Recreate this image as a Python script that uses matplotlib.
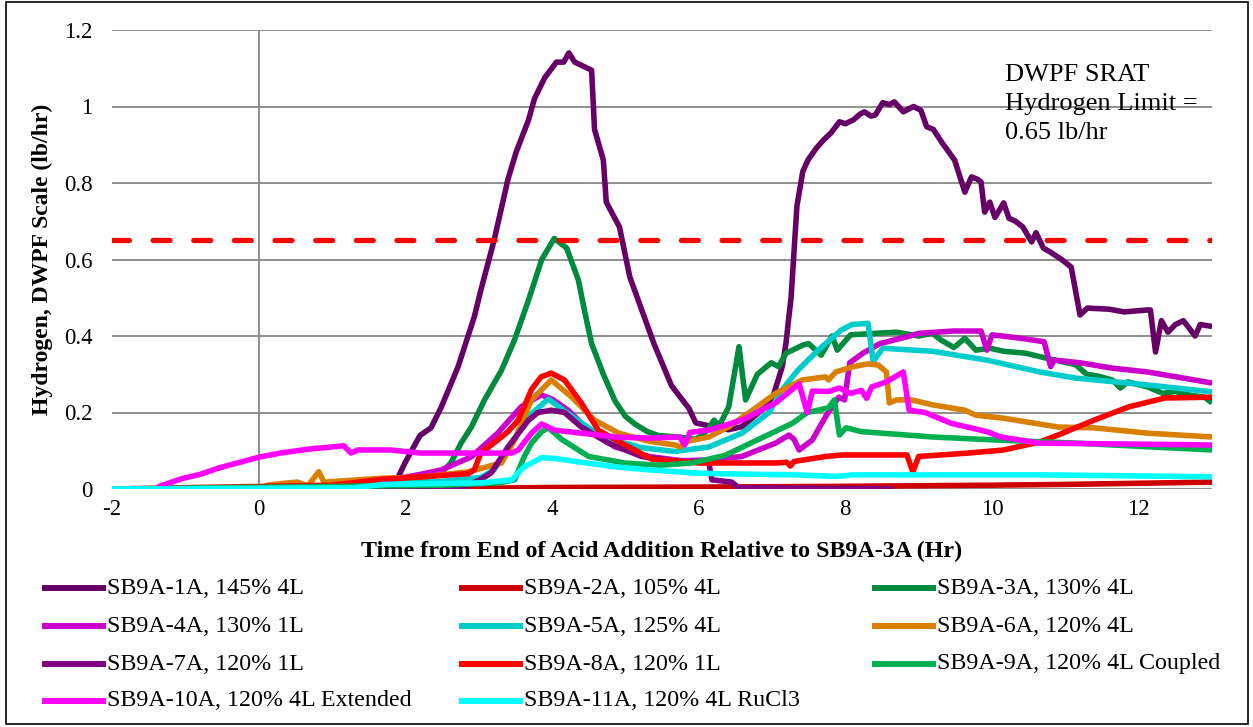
import numpy as np
import matplotlib.pyplot as plt
from matplotlib.lines import Line2D
from matplotlib.patches import Rectangle

plt.rcParams['font.family'] = ['Liberation Serif', 'DejaVu Serif']
plt.rcParams['axes.unicode_minus'] = False

W, H = 1253, 727

# hydrogen generation, lb/hr on the DWPF scale, vs hours from end of acid addition
t_1a = [-2, 1.75, 1.9, 2.0, 2.2, 2.35, 2.49, 2.72, 2.94, 3.03, 3.21, 3.40, 3.51, 3.68, 3.76, 3.90,
        4.06, 4.16, 4.23, 4.31, 4.54, 4.58, 4.70, 4.74, 4.92, 5.06, 5.22, 5.39, 5.63, 5.87, 5.96,
        6.14, 6.41, 6.59, 6.82, 7.0, 7.14, 7.19, 7.23, 7.26, 7.30, 7.34, 7.42, 7.49, 7.60, 7.70,
        7.80, 7.92, 8.0, 8.11, 8.2, 8.26, 8.35, 8.41, 8.51, 8.60, 8.67, 8.79, 8.93, 9.03, 9.11,
        9.2, 9.32, 9.49, 9.63, 9.72, 9.8, 9.85, 9.90, 9.97, 10.04, 10.16, 10.23, 10.32, 10.42,
        10.54, 10.60, 10.70, 10.79, 10.95, 11.08, 11.20, 11.30, 11.6, 11.8, 12.12, 12.16, 12.23,
        12.31, 12.40, 12.5, 12.61, 12.77, 12.84, 13.0]
h_1a = [0, 0, 0.03, 0.07, 0.14, 0.16, 0.214, 0.32, 0.45, 0.52, 0.65, 0.81, 0.88, 0.965, 1.02, 1.075,
        1.116, 1.116, 1.14, 1.116, 1.095, 0.94, 0.86, 0.75, 0.685, 0.555, 0.47, 0.38, 0.27, 0.21, 0.173,
        0.165, 0.155, 0.163, 0.20, 0.233, 0.32, 0.38, 0.45, 0.50, 0.62, 0.74, 0.83, 0.86, 0.89, 0.912,
        0.93, 0.96, 0.955, 0.965, 0.98, 0.986, 0.975, 0.978, 1.01, 1.005, 1.012, 0.986, 1.0, 0.99, 0.947,
        0.94, 0.905, 0.86, 0.776, 0.816, 0.81, 0.803, 0.724, 0.75, 0.71, 0.748, 0.708, 0.70, 0.685,
        0.646, 0.67, 0.63, 0.62, 0.60, 0.58, 0.455, 0.473, 0.47, 0.463, 0.468, 0.468, 0.358,
        0.44, 0.41, 0.43, 0.44, 0.40, 0.43, 0.425]

t_2a = [-2, 2, 4, 6, 8, 10, 11, 12, 13]
h_2a = [0, 0, 0.004, 0.005, 0.007, 0.01, 0.012, 0.015, 0.018]

t_3a = [-2, 1.5, 2.0, 2.3, 2.49, 2.62, 2.76, 2.9, 3.08, 3.31, 3.49, 3.68, 3.86, 4.03, 4.2, 4.36,
        4.45, 4.54, 4.7, 4.86, 5.0, 5.13, 5.3, 5.45, 5.77, 5.95, 6.05, 6.14, 6.21, 6.28, 6.41, 6.55,
        6.64, 6.8, 6.99, 7.09, 7.19, 7.43, 7.5, 7.67, 7.82, 7.89, 8.07, 8.41, 8.7, 9.0, 9.19, 9.3,
        9.48, 9.63, 9.78, 9.97, 10.16, 10.46, 10.74, 11.14, 11.29, 11.45, 11.64, 11.75, 11.85,
        12.12, 12.33, 12.5, 12.71, 12.9, 13]
h_3a = [0, 0, 0.02, 0.03, 0.042, 0.068, 0.12, 0.162, 0.233, 0.31, 0.39, 0.494, 0.60, 0.655, 0.63, 0.546,
        0.46, 0.38, 0.30, 0.23, 0.19, 0.17, 0.15, 0.14, 0.135, 0.13, 0.14, 0.16, 0.18, 0.165, 0.215, 0.372,
        0.233, 0.30, 0.33, 0.32, 0.355, 0.377, 0.38, 0.35, 0.40, 0.363, 0.403, 0.407, 0.41, 0.40, 0.407, 0.39,
        0.37, 0.394, 0.363, 0.368, 0.36, 0.355, 0.342, 0.325, 0.30, 0.295, 0.285, 0.264, 0.28,
        0.267, 0.25, 0.255, 0.245, 0.24, 0.225]

t_4a = [-2, 1.2, 1.7, 2.25, 2.49, 2.9, 3.26, 3.58, 3.85, 4.0, 4.22, 4.5, 4.86, 5.32, 5.77, 6.14,
        6.59, 7.05, 7.23, 7.30, 7.37, 7.55, 7.73, 7.82, 7.91, 7.99, 8.06, 8.24, 8.47, 8.88, 9.0, 9.48,
        9.85, 9.93, 10.0, 10.36, 10.71, 10.8, 10.85, 11.2, 11.64, 12.12, 12.61, 13]
h_4a = [0, 0, 0.02, 0.04, 0.05, 0.084, 0.146, 0.215, 0.246, 0.235, 0.206, 0.154, 0.11, 0.085, 0.074, 0.076,
        0.085, 0.12, 0.141, 0.13, 0.102, 0.128, 0.189, 0.215, 0.24, 0.233, 0.33, 0.355, 0.38, 0.40, 0.407, 0.413,
        0.413, 0.363, 0.403, 0.395, 0.385, 0.32, 0.337, 0.33, 0.316, 0.306, 0.29, 0.277]

t_5a = [-2, 1.5, 2.0, 2.5, 3.03, 3.21, 3.45, 3.68, 3.95, 4.31, 4.68, 5.22, 5.68, 6.14, 6.59, 6.96,
        7.14, 7.35, 7.64, 7.94, 8.09, 8.31, 8.38, 8.51, 9.19, 9.93, 10.65, 11.14, 12.12, 13]
h_5a = [0, 0, 0.015, 0.02, 0.03, 0.05, 0.12, 0.19, 0.235, 0.185, 0.136, 0.108, 0.098, 0.11, 0.146, 0.2,
        0.26, 0.31, 0.365, 0.415, 0.43, 0.433, 0.333, 0.368, 0.36, 0.337, 0.306, 0.29, 0.272, 0.254]

t_6a = [-2, 0.0, 0.12, 0.35, 0.53, 0.67, 0.82, 0.89, 1.2, 1.67, 2.21, 2.86, 3.31, 3.49, 3.72, 3.99,
        4.27, 4.58, 4.91, 5.32, 5.68, 5.75, 5.85, 6.14, 6.41, 6.69, 7.05, 7.41, 7.73, 7.77, 7.87, 8.11,
        8.31, 8.45, 8.56, 8.6, 8.7, 8.9, 9.19, 9.63, 9.78, 10.16, 10.9, 11.39, 12.12, 13]
h_6a = [0, 0, 0.01, 0.015, 0.018, 0.008, 0.045, 0.018, 0.022, 0.028, 0.031, 0.045, 0.068, 0.128, 0.233, 0.285,
        0.24, 0.18, 0.146, 0.125, 0.115, 0.11, 0.125, 0.136, 0.163, 0.2, 0.25, 0.285, 0.293, 0.285, 0.306, 0.32,
        0.327, 0.324, 0.306, 0.225, 0.233, 0.233, 0.22, 0.206, 0.193, 0.185, 0.162, 0.16, 0.146, 0.136]

t_7a = [-2, 2.8, 3.03, 3.17, 3.4, 3.68, 3.81, 3.99, 4.17, 4.4, 4.77, 5.22, 5.68, 6.14, 6.18, 6.45, 6.55, 8.66]
h_7a = [0, 0.005, 0.025, 0.042, 0.11, 0.18, 0.2, 0.206, 0.2, 0.162, 0.12, 0.085, 0.073, 0.068, 0.024, 0.018, 0.003, 0]

t_8a = [-2, 1.0, 1.67, 2.86, 2.94, 3.03, 3.26, 3.4, 3.54, 3.72, 3.85, 3.99, 4.17, 4.40, 4.63, 4.95, 5.36, 6.0,
        7.05, 7.2, 7.25, 7.3, 7.73, 7.96, 8.84, 8.92, 9.0, 9.68, 10.16, 10.65, 10.9, 11.39, 11.87,
        12.36, 13]
h_8a = [0, 0.01, 0.025, 0.04, 0.05, 0.094, 0.128, 0.15, 0.18, 0.26, 0.293, 0.303, 0.285, 0.225, 0.154, 0.12, 0.078,
        0.068, 0.068, 0.07, 0.06, 0.072, 0.085, 0.089, 0.089, 0.045, 0.085, 0.094, 0.102, 0.123, 0.141, 0.18, 0.215,
        0.238, 0.24]

t_9a = [-2, 2.5, 3.27, 3.49, 3.62, 3.72, 3.86, 3.95, 4.13, 4.5, 4.99, 5.46, 5.91, 6.36, 6.82, 7.28, 7.48,
        7.77, 7.85, 7.92, 8.01, 8.22, 9.19, 10.07, 11.14, 13]
h_9a = [0, 0.01, 0.016, 0.024, 0.084, 0.12, 0.15, 0.16, 0.13, 0.085, 0.068, 0.062, 0.068, 0.088, 0.13, 0.172, 0.2,
        0.212, 0.233, 0.141, 0.16, 0.15, 0.136, 0.128, 0.12, 0.102]

t_10a = [-2, -1.4, -1.34, -1.03, -0.8, -0.56, -0.29, 0.02, 0.3, 0.67, 1.16, 1.26, 1.35, 1.8, 2.21, 2.58,
         3.45, 3.54, 3.72, 3.86, 4.03, 4.4, 4.86, 5.32, 5.74, 5.81, 5.88, 6.14, 6.59, 7.05, 7.37, 7.48, 7.55,
         7.77, 7.92, 8.07, 8.22, 8.29, 8.36, 8.56, 8.79, 8.87, 9.09, 9.44, 9.93, 10.12, 10.65, 11.64, 13]
h_10a = [0, 0, 0.008, 0.028, 0.038, 0.054, 0.068, 0.084, 0.094, 0.104, 0.113, 0.094, 0.102, 0.102, 0.094, 0.094,
         0.094, 0.102, 0.146, 0.17, 0.154, 0.146, 0.136, 0.133, 0.136, 0.115, 0.148, 0.154, 0.18, 0.225, 0.275, 0.2,
         0.256, 0.255, 0.264, 0.25, 0.258, 0.237, 0.267, 0.28, 0.306, 0.206, 0.2, 0.172, 0.15, 0.136, 0.12, 0.118,
         0.115]

t_11a = [-2, 1.3, 1.7, 3.03, 3.45, 3.62, 3.86, 4.03, 4.4, 4.86, 5.32, 5.95, 6.26, 7.3, 7.9, 8.1, 10.65, 13]
h_11a = [0, 0.003, 0.012, 0.016, 0.024, 0.058, 0.082, 0.08, 0.07, 0.058, 0.05, 0.042, 0.04, 0.037, 0.033, 0.037,
         0.037, 0.032]

labels = ['SB9A-1A, 145% 4L', 'SB9A-2A, 105% 4L', 'SB9A-3A, 130% 4L',
          'SB9A-4A, 130% 1L', 'SB9A-5A, 125% 4L', 'SB9A-6A, 120% 4L',
          'SB9A-7A, 120% 1L', 'SB9A-8A, 120% 1L', 'SB9A-9A, 120% 4L Coupled',
          'SB9A-10A, 120% 4L Extended', 'SB9A-11A, 120% 4L RuCl3']
colors = ['#660066', '#cc0000', '#008a3e', '#cc00cc', '#00cccc', '#d98000',
          '#800080', '#ff0000', '#00b050', '#ff00ff', '#00ffff']
runs = [(t_1a, h_1a), (t_2a, h_2a), (t_3a, h_3a), (t_4a, h_4a), (t_5a, h_5a), (t_6a, h_6a),
        (t_7a, h_7a), (t_8a, h_8a), (t_9a, h_9a), (t_10a, h_10a), (t_11a, h_11a)]

h2_limit = 0.65
xticks = [-2, 0, 2, 4, 6, 8, 10, 12]
yticks = [0, 0.2, 0.4, 0.6, 0.8, 1.0, 1.2]
ytick_labels = ['0', '0.2', '0.4', '0.6', '0.8', '1', '1.2']

fig = plt.figure(figsize=(W / 100, H / 100), dpi=100)
ax = fig.add_axes([112 / W, 1 - 489 / H, 1100 / W, 459 / H])

grid_col = '#878787'
for y in yticks:
    ax.axhline(y, color=grid_col, lw=1.3, zorder=0)
ax.axvline(0, color=grid_col, lw=1.3, zorder=0)

handles = []
for (t, h), lab, c in zip(runs, labels, colors):
    ln, = ax.plot(t, h, color=c, lw=4.0, label=lab, solid_joinstyle='round', solid_capstyle='butt')
    handles.append(ln)

ax.axhline(h2_limit, color='#ff0000', lw=3.8, dashes=(3.2, 4.5), dash_capstyle='round', zorder=5)
ax.text(10.18, 1.112, 'DWPF SRAT\nHydrogen Limit =\n0.65 lb/hr', fontsize=19, va='top', ha='left',
        linespacing=1.42)

ax.set_xlim(-2, 13)
ax.set_ylim(0, 1.2)
ax.set_xticks(xticks)
ax.set_yticks(yticks)
ax.set_yticklabels(ytick_labels)
ax.tick_params(axis='both', length=0, labelsize=16.5)
ax.tick_params(axis='y', pad=14)
ax.tick_params(axis='x', pad=7)
for s in ax.spines.values():
    s.set_visible(False)

ax.set_xlabel('Time from End of Acid Addition Relative to SB9A-3A (Hr)', fontsize=17.3, fontweight='bold')
ax.set_ylabel('Hydrogen, DWPF Scale (lb/hr)', fontsize=17, fontweight='bold')
ax.xaxis.set_label_coords(0.5, (489 - 551) / 459, transform=ax.transAxes)
ax.xaxis.label.set_va('center')
ax.yaxis.set_label_coords((42 - 112) / 1100, 0.5, transform=ax.transAxes)
ax.yaxis.label.set_va('center')

# legend in three columns, row-major order
col_x = [45, 462, 875]
row_y = [588, 626, 664, 701]
for i, ln in enumerate(handles):
    r, c = divmod(i, 3)
    x0, y0 = col_x[c], row_y[r]
    fig.add_artist(Line2D([x0 / W, (x0 + 58) / W], [1 - y0 / H, 1 - y0 / H], transform=fig.transFigure,
                          color=ln.get_color(), lw=4.3))
    fig.text((x0 + 62) / W, 1 - y0 / H, ln.get_label(), fontsize=17.3, va='center', ha='left')

fig.add_artist(Rectangle((6 / W, 3 / H), 1242 / W, 722 / H, transform=fig.transFigure,
                         fill=False, edgecolor='black', lw=1.2))

fig.savefig('out.png', dpi=100)
